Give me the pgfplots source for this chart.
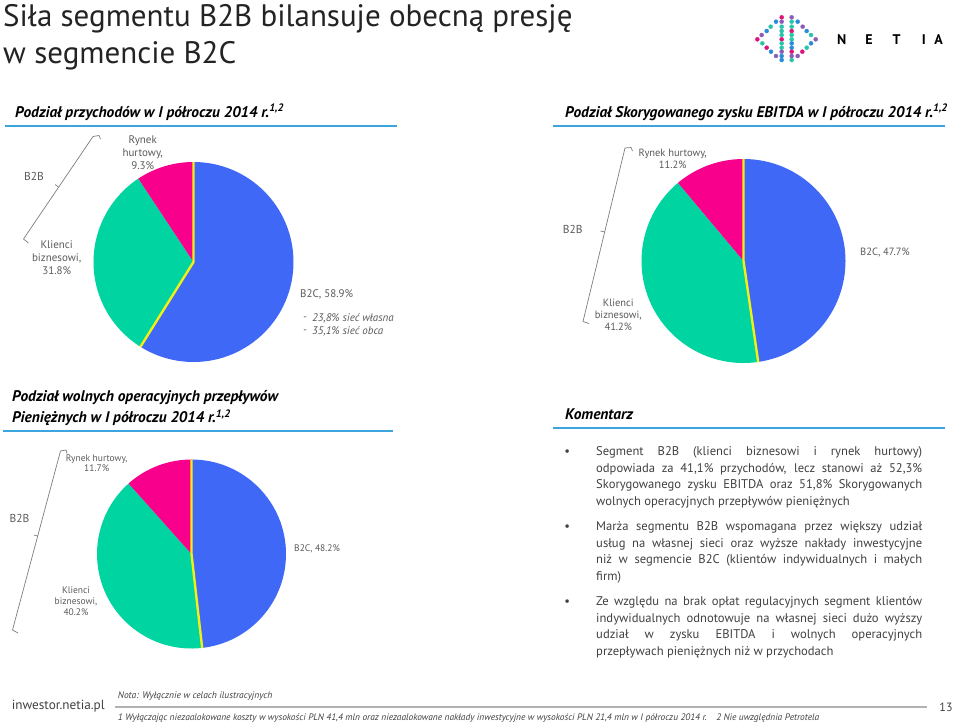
\documentclass[border=0pt]{standalone}
\usepackage{pgfplots}
\pgfplotsset{compat=1.18}
\usepackage{fontspec}
\setmainfont{PT Sans}

\definecolor{cBlue}{RGB}{64,104,246}
\definecolor{cGreen}{RGB}{0,212,160}
\definecolor{cPink}{RGB}{248,0,140}
\definecolor{cYellow}{RGB}{240,240,20}
\definecolor{cRule}{RGB}{60,165,222}
\definecolor{cLabel}{RGB}{90,90,90}
\definecolor{cText}{RGB}{64,64,64}
\definecolor{cBrace}{RGB}{125,125,125}
\definecolor{cTitle}{RGB}{35,35,35}
\definecolor{lM}{RGB}{222,20,122}
\definecolor{lP}{RGB}{140,92,182}
\definecolor{lT}{RGB}{40,196,172}
\definecolor{lB}{RGB}{40,140,216}

% pie: centre x, centre y (px from top left), radius, B2C, Klienci biznesowi, Rynek hurtowy
\newcommand{\pie}[6]{%
  \pgfmathsetmacro\angA{90}%
  \pgfmathsetmacro\angB{90-3.6*#4}%
  \pgfmathsetmacro\angC{\angB-3.6*#5}%
  \pgfmathsetmacro\angD{\angC-3.6*#6}%
  \begin{axis}[at={(#1pt,-#2pt)},anchor=center,hide axis,scale only axis,
      width=240pt,height=240pt,xmin=-120,xmax=120,ymin=-120,ymax=120,clip=false]
    \fill[cBlue] (0,0) -- ({#3*cos(\angA)},{#3*sin(\angA)}) arc[start angle=\angA,end angle=\angB,radius=#3pt] -- cycle;
    \fill[cGreen] (0,0) -- ({#3*cos(\angB)},{#3*sin(\angB)}) arc[start angle=\angB,end angle=\angC,radius=#3pt] -- cycle;
    \fill[cPink] (0,0) -- ({#3*cos(\angC)},{#3*sin(\angC)}) arc[start angle=\angC,end angle=\angD,radius=#3pt] -- cycle;
    \draw[cYellow,line width=2.4pt] ({#3*cos(\angA)},{#3*sin(\angA)}) -- (0,0) -- ({#3*cos(\angB)},{#3*sin(\angB)});
  \end{axis}}

\begin{document}
\begin{tikzpicture}
\useasboundingbox (0pt,0pt) rectangle (960pt,-723pt);

% title
\node[anchor=base west,inner sep=0,text=cTitle,font=\fontsize{31}{36}\selectfont] at (3pt,-26.7pt) {Siła segmentu B2B bilansuje obecną presję};
\node[anchor=base west,inner sep=0,text=cTitle,font=\fontsize{31}{36}\selectfont] at (3pt,-63.3pt) {w segmencie B2C};

% logo
\begin{axis}[at={(753.33pt,-13.33pt)},anchor=north west,hide axis,scale only axis,
    width=66.67pt,height=50.67pt,xmin=160,xmax=360,ymin=40,ymax=192,y dir=reverse,clip=false]
  \addplot[scatter,only marks,mark=*,mark size=2pt,point meta=explicit symbolic,
    scatter/classes={m={fill=lM,draw=lM},p={fill=lP,draw=lP},t={fill=lT,draw=lT},b={fill=lB,draw=lB}}]
  coordinates {
    (245,52)[m] (275,52)[p]
    (228,65)[b] (245,65)[p] (275,65)[t] (293,65)[b]
    (212,80)[t] (245,80)[t] (275,80)[t] (308,80)[p]
    (200,93)[b] (245,93)[t] (275,93)[m] (320,93)[b]
    (185,105)[p] (245,105)[t] (275,105)[t] (333,105)[t]
    (172,118)[m] (245,118)[m] (275,118)[t] (347,118)[p]
    (187,130)[t] (245,130)[t] (275,130)[b] (333,130)[b]
    (200,143)[m] (245,143)[t] (275,143)[b] (320,143)[t]
    (213,155)[b] (245,155)[p] (275,155)[m] (307,155)[m]
    (228,168)[p] (245,168)[b] (275,168)[p] (293,168)[p]
    (245,180)[b] (275,180)[t]
  };
\end{axis}
\foreach \ch/\xx in {N/841.7,E/869,T/896.7,I/923.8,A/938.7}
  \node[font=\fontsize{14}{14}\selectfont\bfseries,inner sep=0] at (\xx pt,-40pt) {\ch};

% section headings
\begin{scope}[font=\fontsize{15.4}{19}\selectfont\bfseries\itshape]
\node[anchor=base west,inner sep=0] at (15pt,-117pt) {Podział przychodów w I półroczu 2014 r.\textsuperscript{1,2}};
\node[anchor=base west,inner sep=0] at (565pt,-117pt) {Podział Skorygowanego zysku EBITDA w I półroczu 2014 r.\textsuperscript{1,2}};
\node[anchor=base west,inner sep=0] at (12pt,-401.7pt) {Podział wolnych operacyjnych przepływów};
\node[anchor=base west,inner sep=0] at (12pt,-422.7pt) {Pieniężnych w I półroczu 2014 r.\textsuperscript{1,2}};
\node[anchor=base west,inner sep=0] at (565pt,-419.3pt) {Komentarz};
\end{scope}
\draw[cRule,line width=1.6pt] (5pt,-125.7pt) -- (397pt,-125.7pt);
\draw[cRule,line width=1.6pt] (553pt,-125.7pt) -- (945pt,-125.7pt);
\draw[cRule,line width=1.6pt] (3pt,-431pt) -- (393pt,-431pt);
\draw[cRule,line width=1.6pt] (553pt,-427.7pt) -- (945pt,-427.7pt);

% pies
\pie{193.5}{262}{100}{58.9}{31.8}{9.3}
\pie{743.5}{261}{102}{47.7}{41.2}{11.2}
\pie{191.5}{554}{94.5}{48.2}{40.2}{11.7}

% pie labels
\begin{scope}[text=cLabel,inner sep=0]
\node[align=center,font=\fontsize{11}{13}\selectfont] at (142.7pt,-153pt) {Rynek\\hurtowy,\\9.3\%};
\node[align=center,font=\fontsize{11}{13}\selectfont] at (56.7pt,-258pt) {Klienci\\biznesowi,\\31.8\%};
\node[anchor=west,font=\fontsize{11}{13}\selectfont] at (300pt,-294pt) {B2C, 58.9\%};
\node[anchor=west,font=\fontsize{11}{13}\selectfont\itshape] at (303pt,-318.3pt) {-};
\node[anchor=west,font=\fontsize{11}{13}\selectfont\itshape] at (312pt,-318.3pt) {23,8\% sieć własna};
\node[anchor=west,font=\fontsize{11}{13}\selectfont\itshape] at (303pt,-331.7pt) {-};
\node[anchor=west,font=\fontsize{11}{13}\selectfont\itshape] at (312pt,-331.7pt) {35,1\% sieć obca};
\node[font=\fontsize{11.5}{13}\selectfont] at (34pt,-176pt) {B2B};

\node[align=center,font=\fontsize{10.5}{12}\selectfont] at (672.7pt,-159pt) {Rynek hurtowy,\\11.2\%};
\node[align=center,font=\fontsize{10.5}{11.7}\selectfont] at (618.3pt,-315pt) {Klienci\\biznesowi,\\41.2\%};
\node[anchor=west,font=\fontsize{10.5}{12}\selectfont] at (860pt,-252.3pt) {B2C, 47.7\%};
\node[font=\fontsize{11.5}{13}\selectfont] at (572.7pt,-229.3pt) {B2B};

\node[align=center,font=\fontsize{9.5}{10}\selectfont] at (96.7pt,-463.3pt) {Rynek hurtowy,\\11.7\%};
\node[align=center,font=\fontsize{9.5}{10.8}\selectfont] at (76pt,-601pt) {Klienci\\biznesowi,\\40.2\%};
\node[anchor=west,font=\fontsize{9.5}{11}\selectfont] at (294pt,-549pt) {B2C, 48.2\%};
\node[font=\fontsize{11.5}{13}\selectfont] at (19.5pt,-518pt) {B2B};
\end{scope}

% brackets
\begin{scope}[cBrace,line width=0.7pt]
\draw (100.5pt,-139pt) -- (99pt,-135.5pt) -- (93pt,-136.5pt) -- (23.5pt,-239pt) -- (28.5pt,-243pt);
\draw (58.5pt,-187pt) -- (55pt,-184.5pt);
\draw (632.5pt,-151pt) -- (631pt,-147.5pt) -- (625pt,-148pt) -- (583pt,-321.5pt) -- (589pt,-323.5pt);
\draw (604.7pt,-232pt) -- (600.5pt,-231pt);
\draw (67pt,-453.5pt) -- (66pt,-450pt) -- (60.5pt,-451pt) -- (12.5pt,-630pt) -- (18pt,-633pt);
\draw (37.7pt,-536pt) -- (34pt,-535pt);
\end{scope}

% comments
\begin{scope}[text=cText,inner sep=0,font=\fontsize{12.6}{16.6}\selectfont]
\foreach \yy in {455.5,530.5,605.5}
  \node[anchor=base] at (567.3pt,-\yy pt) {•};
\node[anchor=base west,text width=326pt,align=justify] at (596pt,-455.5pt)
  {Segment B2B (klienci biznesowi i rynek hurtowy)\linebreak odpowiada za 41,1\% przychodów, lecz stanowi aż 52,3\%\linebreak Skorygowanego zysku EBITDA oraz 51,8\% Skorygowanych\linebreak wolnych operacyjnych przepływów pieniężnych};
\node[anchor=base west,text width=326pt,align=justify] at (596pt,-530.5pt)
  {Marża segmentu B2B wspomagana przez większy udział\linebreak usług na własnej sieci oraz wyższe nakłady inwestycyjne\linebreak niż w segmencie B2C (klientów indywidualnych i małych\linebreak firm)};
\node[anchor=base west,text width=326pt,align=justify] at (596pt,-605.5pt)
  {Ze względu na brak opłat regulacyjnych segment klientów\linebreak indywidualnych odnotowuje na własnej sieci dużo wyższy\linebreak udział w zysku EBITDA i wolnych operacyjnych\linebreak przepływach pieniężnych niż w przychodach};
\end{scope}

% footer
\node[anchor=base west,inner sep=0,text=cText,font=\fontsize{13.2}{15}\selectfont] at (11.7pt,-709.5pt) {inwestor.netia.pl};
\node[anchor=base west,inner sep=0,text=cText,font=\fontsize{9.5}{11}\selectfont\itshape] at (117.7pt,-698pt) {Nota: Wyłącznie w celach ilustracyjnych};
\draw[gray!60,line width=1.6pt] (115pt,-707pt) -- (927pt,-707pt);
\node[anchor=base west,inner sep=0,text=cText,font=\fontsize{9.4}{11}\selectfont\itshape] at (117.7pt,-720pt) {1 Wyłączając niezaalokowane koszty w wysokości PLN 41,4 mln oraz niezaalokowane nakłady inwestycyjne w wysokości PLN 21,4 mln w I półroczu 2014 r.\quad 2 Nie uwzględnia Petrotela};
\node[inner sep=0,text=cText,font=\fontsize{12}{14}\selectfont] at (946pt,-707pt) {13};
\end{tikzpicture}
\end{document}
